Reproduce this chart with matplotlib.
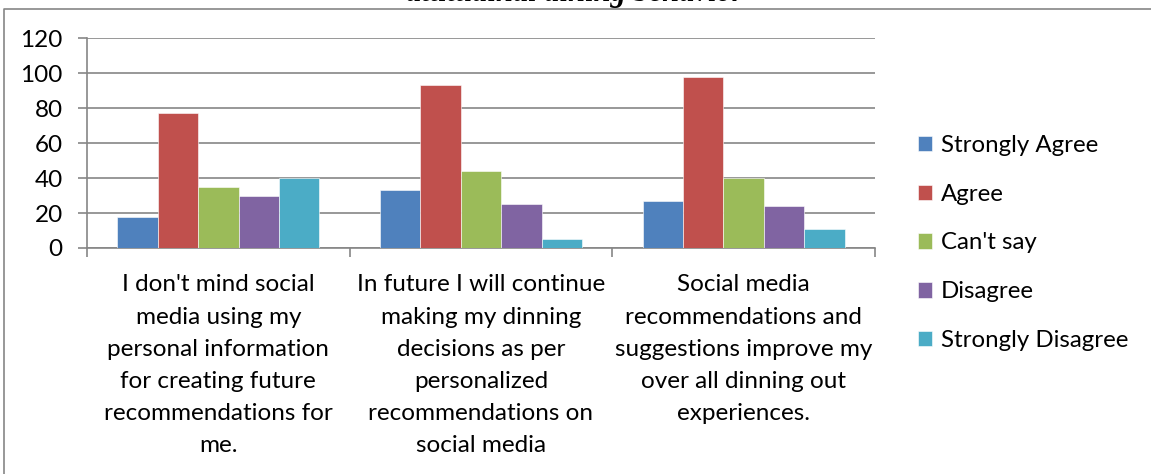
import numpy as np
import matplotlib
matplotlib.use("Agg")
import matplotlib.pyplot as plt
from matplotlib.lines import Line2D

# --- data ---
categories = [
    "I don't mind social\nmedia using my\npersonal information\nfor creating future\nrecommendations for\nme.",
    "In future I will continue\nmaking my dinning\ndecisions as per\npersonalized\nrecommendations on\nsocial media",
    "Social media\nrecommendations and\nsuggestions improve my\nover all dinning out\nexperiences.",
]
series_names = ["Strongly Agree", "Agree", "Can't say", "Disagree", "Strongly Disagree"]
strongly_agree = [18, 33, 27]
agree = [77, 93, 98]
cant_say = [35, 44, 40]
disagree = [30, 25, 24]
strongly_disagree = [40, 5, 11]
yticks = [0, 20, 40, 60, 80, 100, 120]

values = [strongly_agree, agree, cant_say, disagree, strongly_disagree]
colors = ["#4F81BD", "#C0504D", "#9BBB59", "#8064A2", "#4BACC6"]
grey = "#868686"

plt.rcParams["font.family"] = ["Lato", "DejaVu Sans"]

W, H = 1151, 474
fig = plt.figure(figsize=(W / 100, H / 100), dpi=100)
ax = fig.add_axes([87 / W, 1 - 248 / H, (875 - 87) / W, 210 / H])

x = np.arange(len(categories))
bw = 1 / (len(series_names) + 1.5)
for i, (name, vals) in enumerate(zip(series_names, values)):
    off = (i - (len(series_names) - 1) / 2) * bw
    ax.bar(x + off, vals, width=bw, color=colors[i], label=name,
           edgecolor="white", linewidth=0.4, zorder=3)

ax.set_xlim(-0.5, len(categories) - 0.5)
ax.set_ylim(0, 120)
ax.set_yticks(yticks)
ax.yaxis.grid(True, color=grey, linewidth=1.2, zorder=0)
for s in ["top", "right"]:
    ax.spines[s].set_visible(False)
for s in ["left", "bottom"]:
    ax.spines[s].set_color(grey)
    ax.spines[s].set_linewidth(1.2)

ax.tick_params(axis="y", length=6.5, width=1.2, color=grey, pad=11, labelsize=17.5)
ax.set_xticks(x)
ax.set_xticklabels(categories, fontsize=17.5, linespacing=1.66)
ax.tick_params(axis="x", which="major", length=0, pad=19)
ax.set_xticks(np.arange(-0.5, len(categories)), minor=True)
ax.tick_params(axis="x", which="minor", length=6.5, width=1.2, color=grey)

leg = fig.legend(loc="center left", bbox_to_anchor=(918 / W, 1 - 243 / H),
                 frameon=False, fontsize=17.3, handlelength=0.6, handleheight=0.6,
                 handletextpad=0.35, labelspacing=1.16, borderpad=0, borderaxespad=0)

# outer chart frame (only left and top edges visible in the crop)
fig.add_artist(Line2D([4 / W, 4 / W, 1.0], [0.0, 1 - 8.5 / H, 1 - 8.5 / H],
                      transform=fig.transFigure, color=grey, linewidth=1.2))

# title, mostly cut off at the top of the picture
fig.text(575 / W, 1 - 1 / H, "attitudinal dining behavior", ha="center", va="baseline",
         family="Liberation Serif", fontweight="bold", fontstyle="italic", fontsize=22)

plt.savefig("out.png", dpi=100)
